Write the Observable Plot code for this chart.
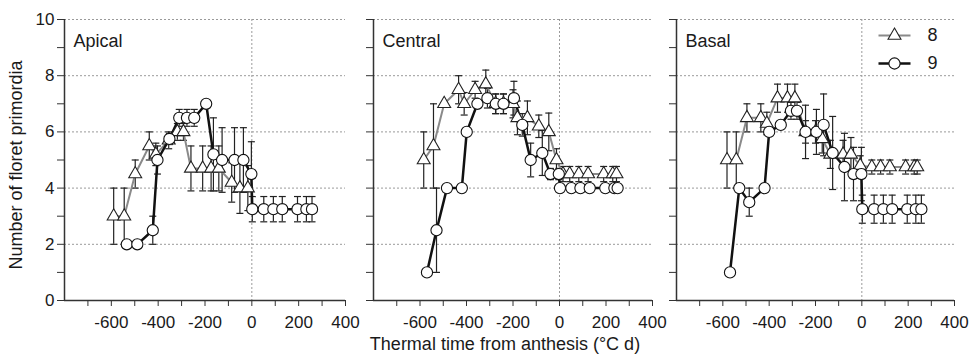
<!DOCTYPE html>
<html><head><meta charset="utf-8">
<script src="https://cdn.jsdelivr.net/npm/d3@7"></script>
<script src="https://cdn.jsdelivr.net/npm/@observablehq/plot@0.6"></script>
<style>
body{margin:0;background:#fff;font-family:"Liberation Sans",Arial,sans-serif;}
#row{display:flex;}
#row svg{display:block;overflow:visible;}
#xlabel{font-size:18px;height:22px;line-height:22px;padding-left:39px;text-align:center;color:#1a1a1a;white-space:nowrap;}
</style></head><body>
<div id="row"></div>
<div id="xlabel">Thermal time from anthesis (°C d)</div>
<script>
// ---- data: [thermal time (°C d), floret primordia, error] ----
const panelNames = ["Apical", "Central", "Basal"];
const seriesNames = ["8", "9"];
const yTickValues = [0,1,2,3,4,5,6,7,8,9,10];
const yGridValues = [2,4,6,8,10];
const xTickValues = [-700,-600,-500,-400,-300,-200,-100,0,100,200,300,400];

const apical8 = [[-590,3.0,1.0],[-545,3.0,1.0],[-498,4.5,0.5],[-438,5.5,0.5],[-410,5.2,0.4],[-355,5.7,0.3],[-318,6.0,0.3],[-292,6.0,0.3],[-260,4.7,0.8],[-210,4.7,0.8],[-174,4.7,0.8],[-141,4.7,0.8],[-86,4.2,0.7],[-51,4.0,0.9],[-17,4.0,0.8]];
const apical9 = [[-534,2.0,0],[-489,2.0,0],[-423,2.5,0.5],[-403,5.0,0.5],[-352,5.75,0.2],[-310,6.5,0.3],[-277,6.5,0.3],[-246,6.5,0.3],[-195,7.0,0],[-164,5.2,1.3],[-127,5.0,1.15],[-74,5.0,1.15],[-36,5.0,1.15],[-2,4.5,1.15],[2,3.25,0.45],[51,3.25,0.45],[92,3.25,0.45],[130,3.25,0.45],[195,3.25,0.45],[233,3.25,0.45],[257,3.25,0.45]];
const central8 = [[-584,5.0,1.0],[-542,5.5,1.5],[-496,7.0,0],[-434,7.5,0.5],[-410,7.0,0.4],[-363,7.5,0.3],[-317,7.7,0.5],[-275,7.0,0.35],[-241,7.0,0.35],[-200,7.0,0.5],[-181,6.5,0.6],[-138,6.5,0.6],[-89,6.2,0.4],[-46,6.0,0.67],[-13,5.0,0.4],[15,4.5,0.27],[44,4.5,0.27],[83,4.5,0.27],[123,4.5,0.27],[190,4.5,0.27],[229,4.5,0.27],[245,4.5,0.27]];
const central9 = [[-570,1.0,0],[-529,2.5,1.5],[-484,4.0,0],[-420,4.0,0],[-399,6.0,0],[-353,7.0,0],[-310,7.2,0.35],[-274,7.0,0.35],[-241,7.0,0.35],[-196,7.2,0.6],[-160,6.25,0.4],[-124,5.0,0.6],[-74,5.25,0.8],[-39,4.5,0.2],[-3,4.5,0.2],[2,4.0,0],[51,4.0,0],[90,4.0,0],[130,4.0,0],[197,4.0,0],[236,4.0,0],[250,4.0,0]];
const basal8 = [[-582,5.0,1.0],[-542,5.0,1.0],[-496,6.5,0.5],[-436,6.5,0.5],[-410,6.3,0.4],[-364,7.2,0.5],[-321,7.2,0.5],[-289,7.2,0.5],[-243,6.0,0.4],[-200,6.0,0.4],[-171,5.75,0.5],[-136,5.2,0.5],[-81,5.2,0.5],[-47,5.2,0.6],[-7,4.8,0.35],[43,4.75,0.25],[81,4.75,0.25],[121,4.75,0.25],[189,4.75,0.25],[226,4.75,0.25],[239,4.75,0.25]];
const basal9 = [[-569,1.0,0],[-529,4.0,0],[-486,3.5,0.5],[-420,4.0,0],[-400,6.0,0],[-350,6.25,0],[-306,6.75,0.3],[-280,6.75,0.3],[-243,6.0,0.95],[-196,6.0,0.8],[-165,6.25,1.1],[-126,5.25,1.3],[-75,4.75,1.2],[-36,4.5,0.95],[-2,4.5,0.95],[2,3.25,0.5],[53,3.25,0.5],[93,3.25,0.5],[131,3.25,0.5],[196,3.25,0.5],[233,3.25,0.5],[257,3.25,0.5]];

const yLabel = "Number of floret primordia";

// ---- drawing ----
const FONT = '"Liberation Sans", Arial, sans-serif';
const H = 333;
const capSymbol = {draw(ctx, size) { const w = Math.sqrt(size / Math.PI); ctx.moveTo(-w, 0); ctx.lineTo(w, 0); }};
const toRows = a => a.map(([t, v, e]) => ({t, v, e}));
const GRAY = "#8a8a8a", INK = "#1a1a1a";

function panel(name, d8, d9, cfg) {
  const r8 = toRows(d8), r9 = toRows(d9);
  const bars = [...r8, ...r9].filter(d => d.e > 0);
  const marks = [
    Plot.gridY(yGridValues, {stroke: "#9a9a9a", strokeOpacity: 1, strokeDasharray: "2,2"}),
    Plot.gridX([0], {stroke: "#9a9a9a", strokeOpacity: 1, strokeDasharray: "2,2"}),
    Plot.axisY(yTickValues, {tickSize: 7, tickPadding: 3, stroke: "#333", fill: INK, fontSize: 17,
      tickFormat: d => (cfg.showY && d % 2 === 0) ? String(d) : "", label: null}),
    Plot.axisX(xTickValues, {tickSize: 6, tickPadding: 9, stroke: "#333", fill: INK, fontSize: 17,
      tickFormat: d => d % 200 === 0 ? String(d) : "", label: null}),
    Plot.ruleX([-800], {stroke: "#333", strokeWidth: 1.5}),
    Plot.ruleY([0], {stroke: "#333", strokeWidth: 1.5}),
    Plot.ruleX(bars, {x: "t", y1: d => d.v - d.e, y2: d => d.v + d.e, stroke: "#222", strokeWidth: 1.2}),
    Plot.dot(bars, {x: "t", y: d => d.v + d.e, symbol: capSymbol, r: 3.5, fill: "none", stroke: "#222", strokeWidth: 1.2}),
    Plot.dot(bars, {x: "t", y: d => d.v - d.e, symbol: capSymbol, r: 3.5, fill: "none", stroke: "#222", strokeWidth: 1.2}),
    Plot.line(r8, {x: "t", y: "v", stroke: GRAY, strokeWidth: 2}),
    Plot.line(r9, {x: "t", y: "v", stroke: "#111", strokeWidth: 2.5}),
    Plot.dot(r8, {x: "t", y: "v", symbol: "triangle", r: 4.8, fill: "white", stroke: "#222", strokeWidth: 1.1}),
    Plot.dot(r9, {x: "t", y: "v", symbol: "circle", r: 5.6, fill: "white", stroke: "#111", strokeWidth: 1.1}),
    Plot.text([name], {text: d => d, frameAnchor: "top-left", textAnchor: "start", lineAnchor: "top", dx: 9, dy: 15, fontSize: 18, fill: INK})
  ];
  if (cfg.showY) {
    marks.push(Plot.text([yLabel], {text: d => d, frameAnchor: "left", textAnchor: "middle", lineAnchor: "middle", rotate: -90, dx: -48, dy: 5, fontSize: 18, fill: INK}));
  }
  if (cfg.legend) {
    marks.push(
      Plot.dot([seriesNames[0]], {frameAnchor: "top-right", dx: -60, dy: 16, symbol: capSymbol, r: 16, fill: "none", stroke: GRAY, strokeWidth: 2}),
      Plot.dot([seriesNames[0]], {frameAnchor: "top-right", dx: -60, dy: 16, symbol: "triangle", r: 4.8, fill: "white", stroke: "#222", strokeWidth: 1.1}),
      Plot.text([seriesNames[0]], {text: d => d, frameAnchor: "top-right", dx: -27, dy: 16, textAnchor: "start", lineAnchor: "middle", fontSize: 18, fill: INK}),
      Plot.dot([seriesNames[1]], {frameAnchor: "top-right", dx: -60, dy: 44, symbol: capSymbol, r: 16, fill: "none", stroke: "#111", strokeWidth: 2.5}),
      Plot.dot([seriesNames[1]], {frameAnchor: "top-right", dx: -60, dy: 44, symbol: "circle", r: 5.6, fill: "white", stroke: "#111", strokeWidth: 1.1}),
      Plot.text([seriesNames[1]], {text: d => d, frameAnchor: "top-right", dx: -27, dy: 44, textAnchor: "start", lineAnchor: "middle", fontSize: 18, fill: INK})
    );
  }
  return Plot.plot({
    width: cfg.width, height: H,
    marginLeft: cfg.ml, marginRight: cfg.mr, marginTop: 19, marginBottom: H - 300,
    x: {domain: [-800, 400]},
    y: {domain: [0, 10]},
    style: {fontFamily: FONT, fontSize: "17px", background: "transparent", overflow: "visible"},
    marks
  });
}

const row = document.getElementById("row");
row.append(
  panel(panelNames[0], apical8, apical9, {width: 355, ml: 64, mr: 10, showY: true}),
  panel(panelNames[1], central8, central9, {width: 309, ml: 18, mr: 12}),
  panel(panelNames[2], basal8, basal9, {width: 307, ml: 12, mr: 17, legend: true})
);
</script>
</body></html>
